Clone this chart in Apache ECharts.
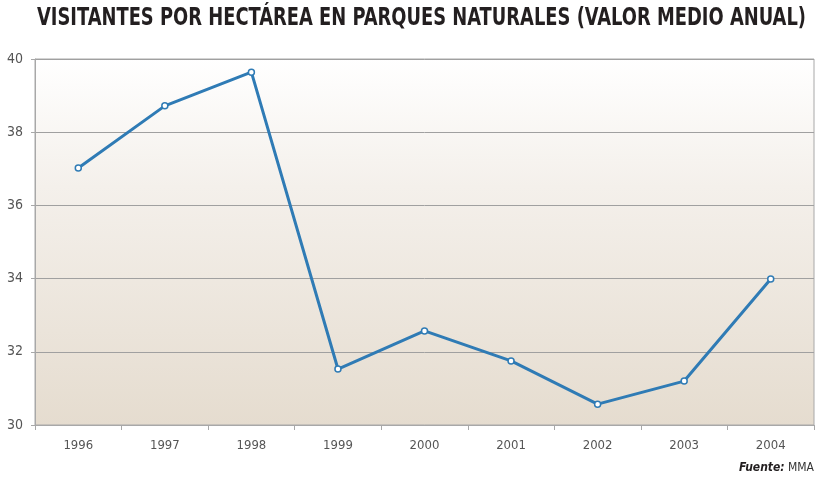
<!DOCTYPE html>
<html>
<head>
<meta charset="utf-8">
<script src="https://cdn.jsdelivr.net/npm/echarts@6/dist/echarts.min.js"></script>
<style>
html,body{margin:0;padding:0;background:#fff;}
#c{width:818px;height:479px;}
</style>
</head>
<body>
<div id="c"></div>
<script>
var years = ['1996','1997','1998','1999','2000','2001','2002','2003','2004'];
var visitantes = [37.02, 38.72, 39.64, 31.53, 32.57, 31.75, 30.57, 31.2, 33.99];
var yTicks = [30, 32, 34, 36, 38, 40];
var titleText = 'VISITANTES POR HECTÁREA EN PARQUES NATURALES (VALOR MEDIO ANUAL)';

var titleFont = '"DejaVu Sans Condensed","Liberation Sans Narrow",sans-serif';
var titleSize = 24;
var cv = document.createElement('canvas').getContext('2d');
cv.font = 'bold ' + titleSize + 'px ' + titleFont;
var natW = cv.measureText(titleText).width;
var targetW = 769;
var sx = targetW / natW;

var chart = echarts.init(document.getElementById('c'), null, {renderer:'canvas'});
chart.setOption({
  animation:false,
  backgroundColor:'#ffffff',
  graphic:[{
    type:'text', x:37, y:7, scaleX:sx, scaleY:1,
    style:{
      text:titleText,
      fontFamily:titleFont, fontWeight:'bold', fontSize:titleSize, fill:'#231f20'
    }
  },{
    type:'text', right:4, top:462,
    style:{
      text:'{b|Fuente:} {r|MMA}',
      rich:{
        b:{fontFamily:'"DejaVu Sans Condensed",sans-serif',fontWeight:'bold',fontStyle:'italic',fontSize:12,fill:'#231f20'},
        r:{fontFamily:'"DejaVu Sans Condensed",sans-serif',fontSize:12,fill:'#333'}
      }
    }
  }],
  grid:{
    left:35, right:4, top:59, bottom:54,
    show:true,
    borderColor:'#a8a8a8', borderWidth:1,
    backgroundColor:new echarts.graphic.LinearGradient(0,0,0,1,[
      {offset:0,color:'#ffffff'},
      {offset:0.35,color:'#f4f0eb'},
      {offset:1,color:'#e5dccf'}
    ])
  },
  xAxis:{
    type:'category', data:years, boundaryGap:true,
    axisLine:{lineStyle:{color:'#a8a8a8',width:1}},
    axisTick:{show:true,length:5,lineStyle:{color:'#a8a8a8'}},
    axisLabel:{color:'#555',fontFamily:'"DejaVu Sans Condensed",sans-serif',fontSize:13,margin:14}
  },
  yAxis:{
    type:'value', min:yTicks[0], max:yTicks[yTicks.length-1], interval:2,
    axisLine:{show:true,lineStyle:{color:'#a8a8a8',width:1}},
    axisTick:{show:true,length:4,lineStyle:{color:'#a8a8a8'}},
    axisLabel:{color:'#555',fontFamily:'"DejaVu Sans Condensed",sans-serif',fontSize:14,margin:12},
    splitLine:{show:true,lineStyle:{color:'#a0a0a0',width:1}}
  },
  series:[{
    type:'line', data:visitantes,
    lineStyle:{color:'#2f7bb5',width:3},
    itemStyle:{color:'#ffffff',borderColor:'#2f7bb5',borderWidth:1.5},
    symbol:'circle', symbolSize:6,
    showSymbol:true
  }]
});
</script>
</body>
</html>
